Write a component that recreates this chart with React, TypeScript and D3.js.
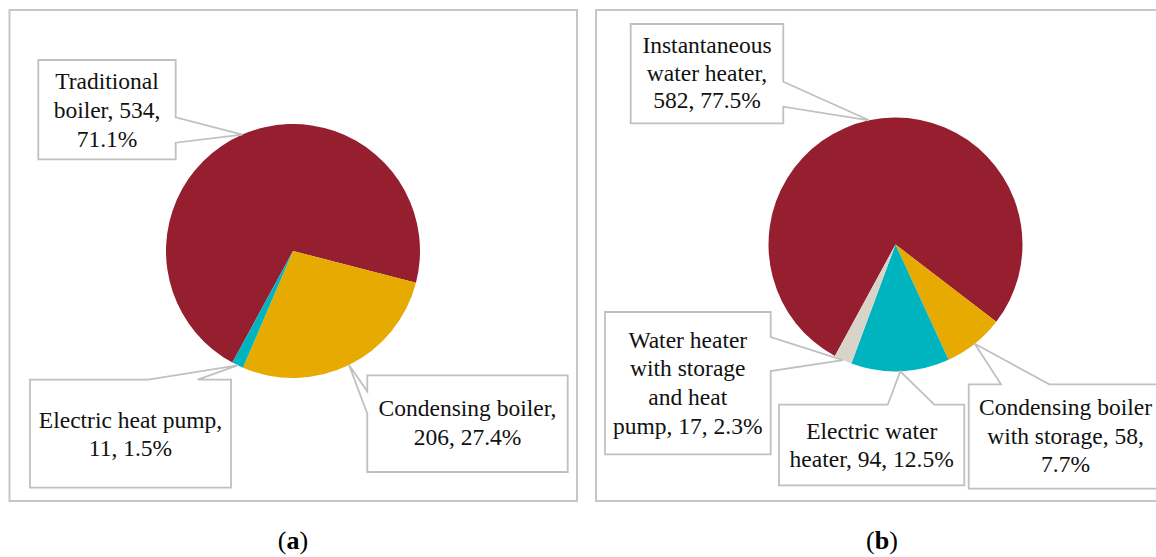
import React from "react";
import * as d3 from "d3";

// ---------- DATA ----------
const categoriesA = ["Traditional boiler", "Condensing boiler", "Electric heat pump"];
const valuesA = [534, 206, 11];
const labelLinesA = [
  ["Traditional", "boiler, 534,", "71.1%"],
  ["Condensing boiler,", "206, 27.4%"],
  ["Electric heat pump,", "11, 1.5%"],
];
const colorsA = ["#951E2F", "#E6AA00", "#00B4BF"];

const categoriesB = [
  "Instantaneous water heater",
  "Condensing boiler with storage",
  "Electric water heater",
  "Water heater with storage and heat pump",
];
const valuesB = [582, 58, 94, 17];
const labelLinesB = [
  ["Instantaneous", "water heater,", "582, 77.5%"],
  ["Condensing boiler", "with storage, 58,", "7.7%"],
  ["Electric water", "heater, 94, 12.5%"],
  ["Water heater", "with storage", "and heat", "pump, 17, 2.3%"],
];
const colorsB = ["#951E2F", "#E6AA00", "#00B4BF", "#D9D4CA"];

const captions = ["a", "b"];

// ---------- LAYOUT ----------
const W = 1156;
const H = 557;
const START = (208.5 * Math.PI) / 180;
const FONT = "'Liberation Serif', 'Times New Roman', serif";
const GRAY = "#C0C0C0";

type Callout = {
  x: number; y: number; w: number; h: number;
  side: "left" | "right" | "top";
  a: number; b: number;
  cx: number; y0: number; step: number;
};

const layoutA = {
  cx: 293, cy: 251, r: 127,
  callouts: [
    { x: 38.3, y: 60, w: 137.4, h: 99.3, side: "right", a: 117.3, b: 142.7, cx: 107, y0: 89.3, step: 28.7 },
    { x: 367.3, y: 375.3, w: 200.4, h: 96.7, side: "left", a: 391.3, b: 413.7, cx: 467.5, y0: 416.3, step: 29 },
    { x: 30, y: 379.7, w: 201, h: 108, side: "top", a: 148.3, b: 197.7, cx: 130.5, y0: 427.7, step: 28.6 },
  ] as Callout[],
};

const layoutB = {
  cx: 895.5, cy: 244.5, r: 127,
  callouts: [
    { x: 630.7, y: 24, w: 152.6, h: 99.3, side: "right", a: 81.7, b: 106.7, cx: 707, y0: 53.3, step: 27.5 },
    { x: 968.7, y: 384.3, w: 193.3, h: 104.4, side: "top", a: 1001, b: 1049.3, cx: 1065.5, y0: 415.3, step: 28.4 },
    { x: 779, y: 404.7, w: 185.3, h: 80.6, side: "top", a: 887.7, b: 934.3, cx: 871.7, y0: 438.7, step: 28.3 },
    { x: 605, y: 312, w: 165.7, h: 142.3, side: "right", a: 337, b: 371, cx: 687.8, y0: 347.7, step: 28.7 },
  ] as Callout[],
};

function calloutPath(c: Callout, tip: [number, number]): string {
  const L = c.x, T = c.y, R = c.x + c.w, B = c.y + c.h;
  const [tx, ty] = tip;
  if (c.side === "right") {
    return `M${L},${T}H${R}V${c.a}L${tx},${ty}L${R},${c.b}V${B}H${L}Z`;
  }
  if (c.side === "left") {
    return `M${L},${T}H${R}V${B}H${L}V${c.b}L${tx},${ty}L${L},${c.a}Z`;
  }
  // top
  return `M${L},${T}H${c.a}L${tx},${ty}L${c.b},${T}H${R}V${B}H${L}Z`;
}

function Pie({ values, colors, lines, layout }: {
  values: number[]; colors: string[]; lines: string[][];
  layout: { cx: number; cy: number; r: number; callouts: Callout[] };
}) {
  const pie = d3.pie<number>().sort(null).value((d) => d)
    .startAngle(START).endAngle(START + 2 * Math.PI);
  const arcs = pie(values);
  const arc = d3.arc<d3.PieArcDatum<number>>().innerRadius(0).outerRadius(layout.r);
  const edge = d3.arc<d3.PieArcDatum<number>>().innerRadius(layout.r).outerRadius(layout.r);
  return (
    <g>
      <g transform={`translate(${layout.cx},${layout.cy})`}>
        {arcs.map((a, i) => (
          <path key={i} d={arc(a) || ""} fill={colors[i]} />
        ))}
      </g>
      {arcs.map((a, i) => {
        const c = layout.callouts[i];
        const [ex, ey] = edge.centroid(a);
        const tip: [number, number] = [layout.cx + ex, layout.cy + ey];
        return (
          <g key={"c" + i}>
            <path d={calloutPath(c, tip)} fill="#FFFFFF" stroke={GRAY} strokeWidth={1.8} strokeLinejoin="miter" />
            {lines[i].map((t, j) => (
              <text key={j} x={c.cx} y={c.y0 + j * c.step} textAnchor="middle"
                fontFamily={FONT} fontSize={23.5} fill="#111">{t}</text>
            ))}
          </g>
        );
      })}
    </g>
  );
}

export default function App() {
  return (
    <svg width={W} height={H} viewBox={`0 0 ${W} ${H}`}
      style={{ position: "absolute", left: 0, top: 0, background: "#fff" }}>
      <rect x={0} y={0} width={W} height={H} fill="#fff" />
      <rect x={9.5} y={10} width={567.5} height={491} fill="none" stroke="#C6C6C6" strokeWidth={2} />
      <rect x={596} y={10} width={580} height={491} fill="none" stroke="#C6C6C6" strokeWidth={2} />
      <Pie values={valuesA} colors={colorsA} lines={labelLinesA} layout={layoutA} />
      <Pie values={valuesB} colors={colorsB} lines={labelLinesB} layout={layoutB} />
      {captions.map((c, i) => (
        <text key={c} x={i === 0 ? 293 : 882} y={549} textAnchor="middle"
          fontFamily={FONT} fontSize={26} fill="#000">
          (<tspan fontWeight="bold">{c}</tspan>)
        </text>
      ))}
    </svg>
  );
}
